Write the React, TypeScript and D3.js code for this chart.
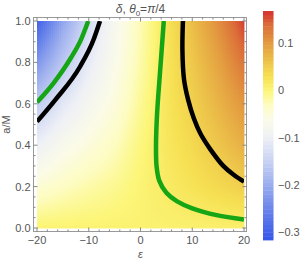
import React from "react";
import * as d3 from "d3";

// Grid of δ values
const epsGrid = [-20, -15, -10, -5, 0, 5, 10, 15, 20];
const aGrid = [0, 0.2, 0.4, 0.6, 0.8, 1.0];
const deltaRows = [
  [0.004, 0.005, 0.005, 0.006, 0.006, 0.007, 0.008, 0.009, 0.01],
  [-0.045, -0.032, -0.02, -0.01, 0.004, 0.015, 0.026, 0.037, 0.048],
  [-0.1, -0.07, -0.05, -0.03, -0.002, 0.02, 0.037, 0.058, 0.08],
  [-0.16, -0.115, -0.08, -0.05, -0.012, 0.022, 0.047, 0.075, 0.105],
  [-0.23, -0.165, -0.11, -0.065, -0.02, 0.022, 0.056, 0.092, 0.132],
  [-0.3, -0.21, -0.135, -0.075, -0.025, 0.024, 0.066, 0.11, 0.162],
];

// Contour curves
const greenLeft: [number, number][] = [[-20, 0.607], [-16.8, 0.7], [-13.5, 0.82], [-11.5, 0.91], [-10.1, 1.0]];
const blackLeft: [number, number][] = [[-20, 0.514], [-16.5, 0.618], [-11.7, 0.779], [-9.1, 0.908], [-7.83, 1.0]];
const greenRight: [number, number][] = [[4.5, 1.0], [3.8, 0.76], [3.2, 0.55], [3.0, 0.4], [3.1, 0.3], [3.6, 0.23], [5.0, 0.17], [7.0, 0.13], [10, 0.095], [14.7, 0.062], [20, 0.041]];
const blackRight: [number, number][] = [[8.2, 1.0], [8.1, 0.86], [8.4, 0.72], [9.2, 0.62], [10.3, 0.53], [11.6, 0.455], [13.5, 0.38], [16, 0.3], [18, 0.257], [20, 0.224]];

const xTicks = [-20, -10, 0, 10, 20];
const yTicks = [0, 0.2, 0.4, 0.6, 0.8, 1.0];
const cbTicks = [0.1, 0, -0.1, -0.2, -0.3];

const colorStops = [-0.317, -0.25, -0.2, -0.15, -0.1, -0.06, -0.03, 0, 0.03, 0.06, 0.1, 0.14, 0.168];
const colorValues = ["#3455e8", "#6b86ea", "#9badee", "#c8d2f3", "#eef0f6", "#fbfbe8", "#fdfcc2", "#fcf679", "#f6e052", "#edc44a", "#e39b40", "#db6c38", "#d4302f"];

function bilinear(e: number, a: number) {
  let i = d3.bisectRight(epsGrid, e) - 1;
  i = Math.max(0, Math.min(epsGrid.length - 2, i));
  let j = d3.bisectRight(aGrid, a) - 1;
  j = Math.max(0, Math.min(aGrid.length - 2, j));
  const tx = (e - epsGrid[i]) / (epsGrid[i + 1] - epsGrid[i]);
  const ty = (a - aGrid[j]) / (aGrid[j + 1] - aGrid[j]);
  const v00 = deltaRows[j][i], v10 = deltaRows[j][i + 1];
  const v01 = deltaRows[j + 1][i], v11 = deltaRows[j + 1][i + 1];
  return (1 - ty) * ((1 - tx) * v00 + tx * v10) + ty * ((1 - tx) * v01 + tx * v11);
}

export default function App() {
  const W = 302, H = 263;
  const x = d3.scaleLinear().domain([-20, 20]).range([37, 244]);
  const y = d3.scaleLinear().domain([0, 1]).range([228, 21]);
  const color = d3.scaleLinear<string>().domain(colorStops).range(colorValues).interpolate(d3.interpolateRgb).clamp(true);
  const cbY = d3.scaleLinear().domain([-0.317, 0.168]).range([240, 11]);

  const frame = { l: 33.5, r: 246.5, t: 17.5, b: 231.5 };
  const cell = 2;
  const cells: JSX.Element[] = [];
  const x0 = x.range()[0], x1 = x.range()[1];
  const y1 = y.range()[1], y0 = y.range()[0];
  for (let px = x0; px < x1; px += cell) {
    for (let py = y1; py < y0; py += cell) {
      const e = x.invert(Math.min(px + cell / 2, x1));
      const a = y.invert(Math.min(py + cell / 2, y0));
      const w = Math.min(cell, x1 - px);
      const h = Math.min(cell, y0 - py);
      cells.push(<rect key={px + "_" + py} x={px} y={py} width={w + 0.4} height={h + 0.4} fill={color(bilinear(e, a))} />);
    }
  }

  const cbCells: JSX.Element[] = [];
  const nCb = 60;
  for (let k = 0; k < nCb; k++) {
    const v0 = -0.317 + (k * (0.485)) / nCb;
    const v1 = -0.317 + ((k + 1) * 0.485) / nCb;
    cbCells.push(<rect key={k} x={263} y={cbY(v1)} width={10.5} height={cbY(v0) - cbY(v1) + 0.4} fill={color((v0 + v1) / 2)} />);
  }

  const line = d3.line<[number, number]>().x(d => x(d[0])).y(d => y(d[1])).curve(d3.curveCatmullRom.alpha(0.5));
  const lineMono = d3.line<[number, number]>().x(d => x(d[0])).y(d => y(d[1])).curve(d3.curveMonotoneX);

  const xMinor = d3.range(-20, 20.01, 2).filter(v => !xTicks.includes(v));
  const yMinor = d3.range(0, 1.001, 0.05).map(v => +v.toFixed(2)).filter(v => !yTicks.includes(v));

  const tickColor = "#888";
  const textColor = "#555";
  const font = "'Liberation Sans', Arial, sans-serif";

  return (
    <svg width={W} height={H} style={{ position: "absolute", left: 0, top: 0 }} fontFamily={font}>
      <rect x={0} y={0} width={W} height={H} fill="#fff" />
      <defs>
        <clipPath id="plotclip">
          <rect x={x0} y={y1} width={x1 - x0} height={y0 - y1} />
        </clipPath>
      </defs>
      <g>{cells}</g>
      <g clipPath="url(#plotclip)">
        <path d={lineMono(greenLeft) || ""} fill="none" stroke="#15a515" strokeWidth={4.5} />
        <path d={lineMono(blackLeft) || ""} fill="none" stroke="#000" strokeWidth={4.5} />
        <path d={line(greenRight) || ""} fill="none" stroke="#15a515" strokeWidth={4.5} />
        <path d={line(blackRight) || ""} fill="none" stroke="#000" strokeWidth={4.5} />
      </g>
      {/* frame */}
      <rect x={frame.l} y={frame.t} width={frame.r - frame.l} height={frame.b - frame.t} fill="none" stroke="#999" strokeWidth={1} />
      {/* x ticks */}
      {xTicks.map(v => (
        <g key={"xt" + v}>
          <line x1={x(v)} x2={x(v)} y1={frame.b} y2={frame.b - 4} stroke={tickColor} />
          <line x1={x(v)} x2={x(v)} y1={frame.t} y2={frame.t + 4} stroke={tickColor} />
          <text x={x(v)} y={frame.b + 12} textAnchor="middle" fontSize={11} fill={textColor}>{v < 0 ? "\u2212" + Math.abs(v) : String(v)}</text>
        </g>
      ))}
      {xMinor.map(v => (
        <g key={"xm" + v}>
          <line x1={x(v)} x2={x(v)} y1={frame.b} y2={frame.b - 2} stroke={tickColor} />
          <line x1={x(v)} x2={x(v)} y1={frame.t} y2={frame.t + 2} stroke={tickColor} />
        </g>
      ))}
      {yTicks.map(v => (
        <g key={"yt" + v}>
          <line x1={frame.l} x2={frame.l + 4} y1={y(v)} y2={y(v)} stroke={tickColor} />
          <line x1={frame.r} x2={frame.r - 4} y1={y(v)} y2={y(v)} stroke={tickColor} />
          <text x={frame.l - 3} y={y(v) + 4} textAnchor="end" fontSize={11} fill={textColor}>{v.toFixed(1)}</text>
        </g>
      ))}
      {yMinor.map(v => (
        <g key={"ym" + v}>
          <line x1={frame.l} x2={frame.l + 2} y1={y(v)} y2={y(v)} stroke={tickColor} />
          <line x1={frame.r} x2={frame.r - 2} y1={y(v)} y2={y(v)} stroke={tickColor} />
        </g>
      ))}
      {/* axis labels */}
      <text x={(x0 + x1) / 2} y={258} textAnchor="middle" fontSize={11} fill={textColor} fontStyle="italic">ε</text>
      <text transform={`translate(10,${(y0 + y1) / 2}) rotate(-90)`} textAnchor="middle" fontSize={11} fill={textColor}>a/M</text>
      {/* title */}
      <text x={(x0 + x1) / 2} y={13} textAnchor="middle" fontSize={12} fill={textColor}>
        <tspan fontStyle="italic">δ</tspan>
        <tspan>, </tspan>
        <tspan fontStyle="italic">θ</tspan>
        <tspan fontSize={8} dy={3}>0</tspan>
        <tspan dy={-3}>=</tspan>
        <tspan fontStyle="italic">π</tspan>
        <tspan>/4</tspan>
      </text>
      {/* colorbar */}
      <g>{cbCells}</g>
      {cbTicks.map(v => (
        <text key={"cb" + v} x={278} y={cbY(v) + 4} fontSize={11} fill={textColor}>{v < 0 ? "\u2212" + Math.abs(v) : String(v)}</text>
      ))}
    </svg>
  );
}
